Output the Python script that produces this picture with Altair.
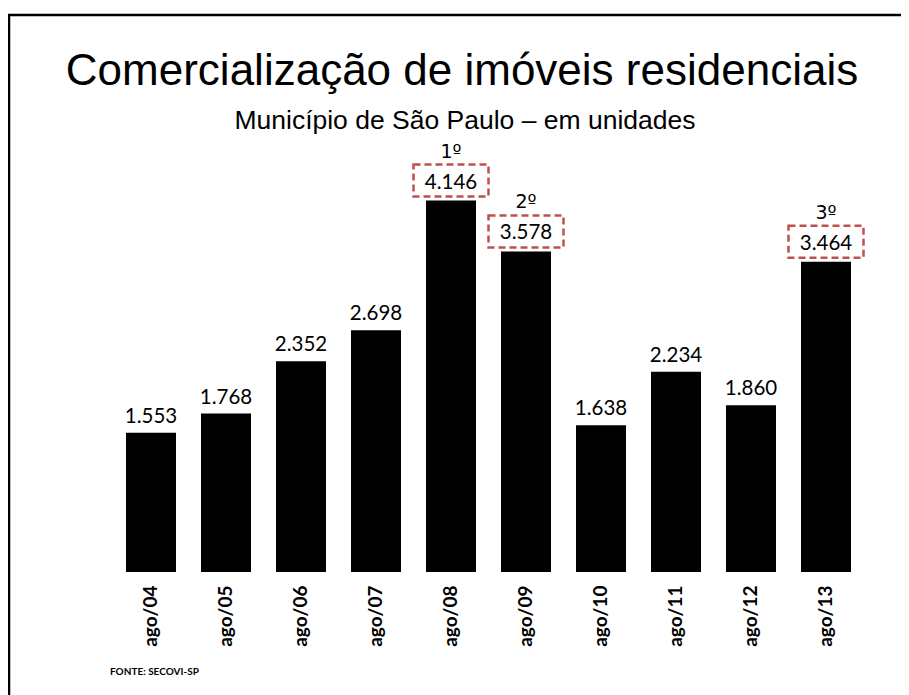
import altair as alt
import pandas as pd

periodos = ["ago/04", "ago/05", "ago/06", "ago/07", "ago/08",
            "ago/09", "ago/10", "ago/11", "ago/12", "ago/13"]
valores = [1553, 1768, 2352, 2698, 4146, 3578, 1638, 2234, 1860, 3464]
ranking = ["", "", "", "", "1º", "2º", "", "", "", "3º"]
titulo = "Comercialização de imóveis residenciais"
subtitulo = "Município de São Paulo – em unidades"
fonte = "FONTE: SECOVI-SP"

rotulos = [f"{v:,}".replace(",", ".") for v in valores]
df = pd.DataFrame({"periodo": periodos, "valor": valores,
                   "rotulo": rotulos, "ranking": ranking})

x = alt.X("periodo:N", sort=periodos,
          scale=alt.Scale(paddingInner=1/3, paddingOuter=1/6),
          axis=alt.Axis(title=None, labelAngle=-90, labelFont="Lato",
                        labelFontWeight="bold", labelFontSize=19,
                        labelColor="#000", labelPadding=13,
                        domain=False, ticks=False, grid=False))
y = alt.Y("valor:Q", scale=alt.Scale(domain=[0, 5000]), axis=None)

base = alt.Chart(df)

bars = base.mark_bar(color="#000").encode(x=x, y=y)

labels = base.transform_filter("datum.ranking == ''").mark_text(
    dy=-10, baseline="alphabetic", font="Lato", fontSize=20.5, color="#000"
).encode(x=x, y=y, text="rotulo:N")

labels_top = base.transform_filter("datum.ranking != ''").mark_text(
    dy=-12, baseline="alphabetic", font="Lato", fontSize=20.5, color="#000"
).encode(x=x, y=y, text="rotulo:N")

boxes = base.transform_filter("datum.ranking != ''").mark_bar(
    fill="#ffffff", fillOpacity=0, stroke="#C0504D", strokeWidth=2.5,
    strokeDash=[7, 4], width=75, yOffset=-4, y2Offset=-36
).encode(x=x, y=y, y2="valor:Q")

ranks = base.transform_filter("datum.ranking != ''").mark_text(
    dy=-43, baseline="alphabetic", font="DejaVu Sans", fontSize=19, color="#000"
).encode(x=x, y=y, text="ranking:N")

one = alt.Data(values=[{}])

title_t = alt.Chart(one).mark_text(
    font="Liberation Sans", fontSize=44, align="center", baseline="alphabetic", color="#000"
).encode(x=alt.value(348.5), y=alt.value(-39), text=alt.value(titulo))

sub_t = alt.Chart(one).mark_text(
    font="Liberation Sans", fontSize=26.5, align="center", baseline="alphabetic", color="#000"
).encode(x=alt.value(351.5), y=alt.value(5), text=alt.value(subtitulo))

fonte_t = alt.Chart(one).mark_text(
    font="Lato", fontSize=10, fontWeight="bold", align="left", baseline="alphabetic", color="#000"
).encode(x=alt.value(-3.5), y=alt.value(551), text=alt.value(fonte))

frame_left = alt.Chart(one).mark_rule(color="#000", strokeWidth=2.5).encode(
    x=alt.value(-104.5), y=alt.value(-110), y2=alt.value(700))
frame_top = alt.Chart(one).mark_rule(color="#000", strokeWidth=2.5).encode(
    x=alt.value(-105.75), x2=alt.value(900), y=alt.value(-109))

chart = alt.layer(
    frame_left, frame_top, bars, labels, labels_top, boxes, ranks,
    title_t, sub_t, fonte_t
).properties(
    width=750, height=448,
    padding={"left": 105.5, "top": 116, "right": 37.5, "bottom": 123},
    autosize=alt.AutoSizeParams(type="none"),
    background="#ffffff"
).configure_view(stroke=None)

chart.save("out.html", embed_options={"renderer": "svg", "actions": False})
